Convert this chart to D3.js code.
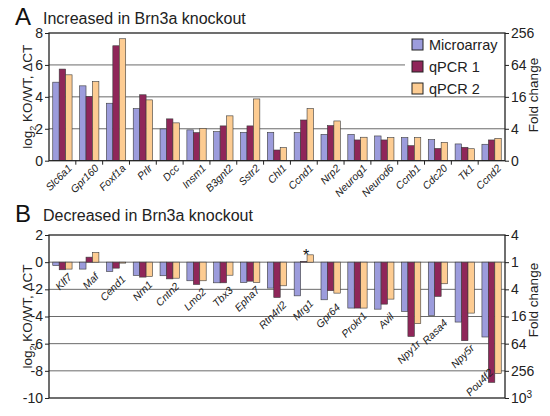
<!DOCTYPE html>
<html>
<head>
<meta charset="utf-8">
<script src="https://cdn.jsdelivr.net/npm/d3@7"></script>
<style>
  body { margin: 0; background: #fff; }
  svg { font-family: "Liberation Sans", Arial, sans-serif; }
</style>
</head>
<body>
<div id="chart"></div>
<script>
// Panel A: increased in Brn3a knockout
const genesA = ["Slc6a1", "Gpr160", "Foxf1a", "Prlr", "Dcc", "Insm1", "B3gnt2", "Sstr2", "Chl1",
  "Ccnd1", "Nrp2", "Neurog1", "Neurod6", "Ccnb1", "Cdc20", "Tk1", "Ccnd2"];
const microA = [4.92, 4.69, 3.6, 3.27, 1.99, 1.93, 1.82, 1.78, 1.78, 1.76, 1.65, 1.65, 1.55, 1.45, 1.32, 1.05, 1.03];
const qpcr1A = [5.74, 4.02, 7.2, 4.13, 2.62, 1.76, 2.18, 2.18, 0.67, 2.55, 2.2, 1.3, 1.3, 0.94, 0.77, 0.84, 1.3];
const qpcr2A = [5.38, 4.96, 7.64, 3.81, 2.37, 2.03, 2.81, 3.87, 0.82, 3.27, 2.49, 1.47, 1.45, 1.45, 1.15, 0.75, 1.4];
const ticksA = [0, 2, 4, 6, 8];
const foldA = ["0", "4", "16", "64", "256"];

// Panel B: decreased in Brn3a knockout
const genesB = ["Klf7", "Maf", "Cend1", "Nrn1", "Cntn2", "Lmo2", "Tbx3", "Epha7", "Rtn4rl2",
  "Mrg1", "Gpr64", "Prokr1", "Avil", "Npy1r", "Rasa4", "Npy5r", "Pou4f2"];
const microB = [-0.25, -0.51, -0.69, -0.98, -1.0, -1.37, -1.52, -1.5, -1.91, -2.48, -2.77, -3.38, -3.46, -3.63, -3.92, -4.41, -5.51];
const qpcr1B = [-0.56, 0.37, -0.44, -1.1, -1.23, -1.64, -1.52, -1.4, -2.6, 0.05, -2.1, -3.38, -3.09, -5.47, -2.52, -5.78, -8.85];
const qpcr2B = [-0.51, 0.71, -0.07, -1.05, -1.18, -1.37, -0.96, -1.5, -1.74, 0.54, -2.28, -3.38, -2.72, -4.53, -1.59, -3.75, -8.2];
const ticksB = [2, 0, -2, -4, -6, -8, -10];
const foldB = ["4", "1", "4", "16", "64", "256", "10^3"];
const starredB = ["Mrg1"];

const seriesNames = ["Microarray", "qPCR 1", "qPCR 2"];
const colors = ["#9c9cdc", "#8f2659", "#fdcc92"];

const width = 550, height = 416;
const left = 49, right = 505;

const svg = d3.select("#chart").append("svg")
  .attr("width", width)
  .attr("height", height);

function drawPanel(opts) {
  const g = svg.append("g");
  const x = d3.scaleBand().domain(opts.genes).range([left, right])
    .paddingInner(0.28).paddingOuter(0.14);
  const xs = d3.scaleBand().domain(seriesNames).range([0, x.bandwidth()]);
  const y = d3.scaleLinear().domain(opts.domain).range([opts.bottom, opts.top]);

  // gridlines
  g.selectAll("line.grid")
    .data(opts.grid)
    .enter()
    .append("line")
    .attr("x1", left)
    .attr("x2", d => (opts.legend && d === 6) ? 405 : right)
    .attr("y1", d => y(d))
    .attr("y2", d => y(d))
    .attr("stroke", "#6a6a6a")
    .attr("stroke-width", 1);

  // bars
  const rows = opts.genes.map((gene, i) => ({
    gene: gene,
    values: [opts.series[0][i], opts.series[1][i], opts.series[2][i]]
  }));
  const groups = g.selectAll("g.gene")
    .data(rows)
    .enter()
    .append("g")
    .attr("transform", d => `translate(${x(d.gene)},0)`);
  groups.selectAll("rect")
    .data(d => d.values.map((v, k) => ({ v: v, k: k })))
    .enter()
    .append("rect")
    .attr("x", d => xs(seriesNames[d.k]))
    .attr("width", xs.bandwidth())
    .attr("y", d => Math.min(y(0), y(d.v)))
    .attr("height", d => Math.abs(y(0) - y(d.v)))
    .attr("fill", d => colors[d.k])
    .attr("stroke", "#3a3a3a")
    .attr("stroke-width", 0.6);

  // frame
  g.append("rect")
    .attr("x", left)
    .attr("y", opts.top)
    .attr("width", right - left)
    .attr("height", opts.bottom - opts.top)
    .attr("fill", "none")
    .attr("stroke", "#222")
    .attr("stroke-width", 1.3);

  // left axis
  const ax = g.append("g")
    .attr("transform", `translate(${left},0)`)
    .call(d3.axisLeft(y).tickValues(opts.ticks).tickSize(4).tickPadding(2).tickFormat(d3.format("d")));
  ax.select(".domain").remove();
  ax.selectAll("text").attr("font-size", 14).attr("fill", "#222").text(d => String(d));
  ax.selectAll("line").attr("stroke", "#222");

  // right axis with fold change
  const ay = g.append("g")
    .attr("transform", `translate(${right},0)`)
    .call(d3.axisRight(y).tickValues(opts.ticks).tickSize(4).tickPadding(2)
      .tickFormat((d, i) => opts.fold[i]));
  ay.select(".domain").remove();
  ay.selectAll("line").attr("stroke", "#222");
  ay.selectAll("text").attr("font-size", 14).attr("fill", "#222")
    .each(function(d, i) {
      const label = opts.fold[i];
      if (label.indexOf("^") >= 0) {
        const parts = label.split("^");
        const t = d3.select(this).text(parts[0]);
        t.append("tspan").attr("font-size", 10).attr("dy", "-0.5em").text(parts[1]);
      }
    });

  // axis titles
  const yl = g.append("text")
    .attr("transform", `translate(32,${(opts.top + opts.bottom) / 2}) rotate(-90)`)
    .attr("text-anchor", "middle")
    .attr("font-size", 13.5)
    .attr("fill", "#222");
  yl.append("tspan").text("log");
  yl.append("tspan").attr("font-size", 9).attr("dy", 4).text("2");
  yl.append("tspan").attr("dy", -4).text(" KO/WT, \u0394CT");

  g.append("text")
    .attr("transform", `translate(538,${opts.foldCenter}) rotate(-90)`)
    .attr("text-anchor", "middle")
    .attr("font-size", 13.5)
    .attr("fill", "#222")
    .text("Fold change");

  // panel letter and title
  g.append("text")
    .attr("x", 15).attr("y", opts.titleY)
    .attr("font-size", 24)
    .attr("fill", "#111")
    .text(opts.letter);
  g.append("text")
    .attr("x", 43).attr("y", opts.titleY - 1)
    .attr("font-size", 16)
    .attr("fill", "#222")
    .text(opts.title);

  // gene labels
  g.selectAll("text.gene")
    .data(rows)
    .enter()
    .append("text")
    .attr("transform", d => {
      const lo = Math.min(0, d3.min(d.values));
      let ly = y(lo) + 3;
      let lx = x(d.gene) + x.bandwidth() / 2 + 5;
      if (opts.clampLabels && ly > opts.bottom - 30) { ly = opts.bottom - 30; lx -= 8; }
      return `translate(${lx},${ly}) rotate(-45)`;
    })
    .attr("text-anchor", "end")
    .attr("dy", "0.7em")
    .attr("font-size", 10.5)
    .attr("font-style", "italic")
    .attr("fill", "#222")
    .text(d => d.gene);

  if (opts.axisTicks) {
    g.selectAll("line.xtick")
      .data(opts.genes.slice(1))
      .enter()
      .append("line")
      .attr("x1", d => x(d) + x.bandwidth() / 2 - x.step() / 2)
      .attr("x2", d => x(d) + x.bandwidth() / 2 - x.step() / 2)
      .attr("y1", opts.bottom)
      .attr("y2", opts.bottom + 4)
      .attr("stroke", "#222");
  }

  // significance stars
  if (opts.starred) {
    g.selectAll("text.star")
      .data(rows.filter(d => opts.starred.indexOf(d.gene) >= 0))
      .enter()
      .append("text")
      .attr("x", d => x(d.gene) + xs(seriesNames[2]) - 1)
      .attr("y", d => y(Math.max(0, d3.max(d.values))) + 6)
      .attr("text-anchor", "middle")
      .attr("font-size", 16)
      .attr("fill", "#111")
      .text("*");
  }

  // legend
  if (opts.legend) {
    const lg = g.append("g");
    lg.append("rect")
      .attr("x", 405).attr("y", opts.top + 1)
      .attr("width", right - 406).attr("height", 62)
      .attr("fill", "#fff");
    seriesNames.forEach((name, k) => {
      lg.append("rect")
        .attr("x", 412).attr("y", 39 + k * 22)
        .attr("width", 11).attr("height", 11)
        .attr("fill", colors[k])
        .attr("stroke", "#222")
        .attr("stroke-width", 1);
      lg.append("text")
        .attr("x", 429).attr("y", 49.5 + k * 22)
        .attr("font-size", 14.5)
        .attr("fill", "#222")
        .text(name);
    });
  }
}

drawPanel({
  genes: genesA,
  series: [microA, qpcr1A, qpcr2A],
  domain: [0, 8],
  ticks: ticksA,
  fold: foldA,
  grid: [2, 4, 6],
  top: 33,
  bottom: 160.7,
  foldCenter: 95,
  letter: "A",
  title: "Increased in Brn3a knockout",
  titleY: 25,
  legend: true,
  axisTicks: true
});

drawPanel({
  genes: genesB,
  series: [microB, qpcr1B, qpcr2B],
  domain: [-10, 2],
  ticks: ticksB,
  fold: foldB,
  grid: [0, -2, -4, -6, -8],
  top: 235,
  bottom: 398,
  foldCenter: 300,
  letter: "B",
  title: "Decreased in Brn3a knockout",
  titleY: 222,
  starred: starredB,
  clampLabels: true
});
</script>
</body>
</html>
